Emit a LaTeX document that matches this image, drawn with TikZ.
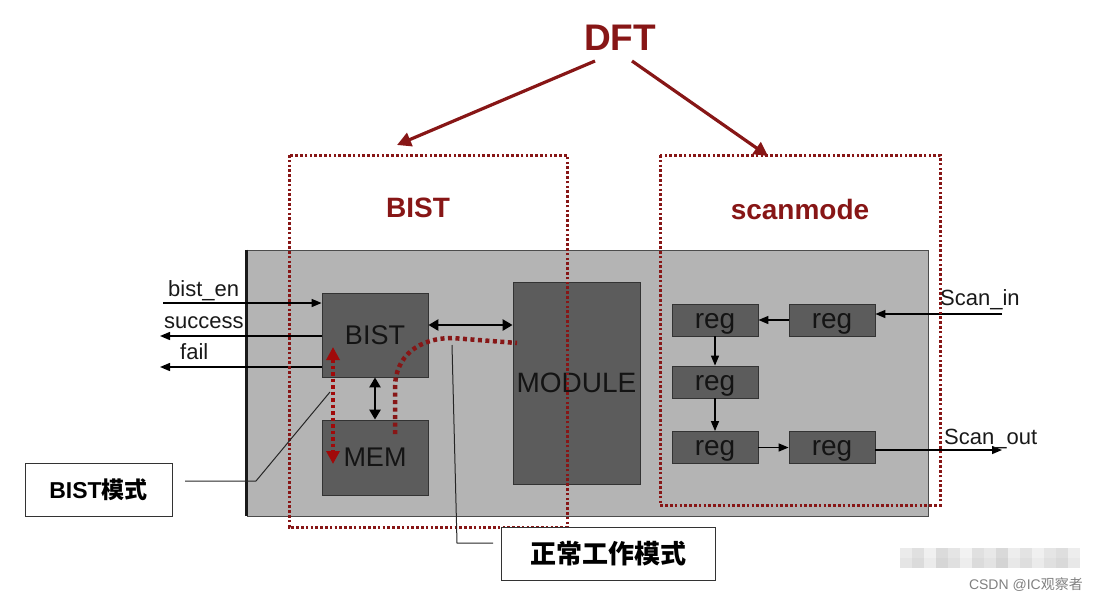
\documentclass[tikz,border=0pt]{standalone}
\usepackage{fontspec}
\setmainfont{Liberation Sans}
\newfontfamily\cjk{Noto Sans CJK SC}
\usetikzlibrary{arrows.meta}
\definecolor{dred}{RGB}{135,22,22}
\definecolor{mred}{RGB}{160,10,10}
\definecolor{chipgray}{RGB}{180,180,180}
\definecolor{blkgray}{RGB}{92,92,92}
\tikzset{
  blk/.style={draw=black!80, line width=0.8pt, fill=blkgray, inner sep=0pt, text=black!92},
  regbox/.style={blk, minimum width=86pt, minimum height=32pt, text height=17pt, text depth=1pt, font=\fontsize{28}{30}\selectfont},
  dotbox/.style={draw=dred, line width=3pt, dash pattern=on 2.6pt off 2.2pt},
  arr/.style={line width=1.4pt, -{Triangle[length=10pt,width=8pt]}},
  dbl/.style={line width=2.6pt, {Triangle[length=10pt,width=11pt]}-{Triangle[length=10pt,width=11pt]}},
  sig/.style={font=\fontsize{22}{24}\selectfont, inner sep=0pt, text=black!90},
  redlbl/.style={text=dred, font=\bfseries\fontsize{28}{30}\selectfont, inner sep=0pt},
  callout/.style={draw=black!80, line width=1pt, fill=white, inner sep=0pt, font=\cjk\bfseries\fontsize{26}{28}\selectfont},
  cline/.style={draw=black!85, line width=1pt},
  dftarr/.style={draw=dred, line width=3.2pt, -{Triangle[length=14pt,width=14pt]}},
}
\begin{document}
\begin{tikzpicture}[x=1pt,y=-1pt]
\useasboundingbox (0,0) rectangle (1098,603);
% chip
\node[draw=black!70, line width=0.8pt, fill=chipgray, minimum width=681pt, minimum height=266pt, inner sep=0pt] (chip) at (587.5,383) {};
\draw[line width=2.6pt, black!90] (chip.north west) -- (chip.south west);
% blocks
\node[blk, minimum width=106pt, minimum height=84pt, font=\fontsize{27}{30}\selectfont] (bist) at (375,335) {BIST};
\node[blk, minimum width=106pt, minimum height=75pt, font=\fontsize{27}{30}\selectfont] (mem) at (375,457.5) {MEM};
\node[blk, minimum width=127pt, minimum height=202pt, font=\fontsize{28}{30}\selectfont] (module) at (576.5,383) {MODULE};
\node[regbox] (r1) at (715,320) {reg};
\node[regbox] (r2) at (832,320) {reg};
\node[regbox] (r3) at (715,382) {reg};
\node[regbox] (r4) at (715,447.5) {reg};
\node[regbox] (r5) at (832,447.5) {reg};
% reg chain
\draw[arr] (r2) -- (r1);
\draw[arr] (r1) -- (r3);
\draw[arr] (r3) -- (r4);
\draw[arr] (r4) -- (r5);
\coordinate (sin) at (1002,314);
\coordinate (sout) at (1002,450);
\draw[arr] (sin) -- (sin -| r2.east);
\draw[arr] (r5.east |- sout) -- (sout);
\node[sig, anchor=base west] (sinl) at (940,305) {Scan\_in};
\node[sig, anchor=base west] (soutl) at (944,444) {Scan\_out};
% bist signals
\coordinate (en) at (163,303);
\coordinate (succ) at (160,336);
\coordinate (fl) at (160,367);
\draw[arr] (en) -- (en -| bist.west);
\draw[arr] (succ -| bist.west) -- (succ);
\draw[arr] (fl -| bist.west) -- (fl);
\node[sig, anchor=base west] (enl) at (168,296) {bist\_en};
\node[sig, anchor=base west] (succl) at (164,328) {success};
\node[sig, anchor=base west] (fll) at (180,359) {fail};
% bist <-> module, bist <-> mem
\draw[dbl] ([yshift=10pt]bist.east) -- ([yshift=10pt]bist.east -| module.west);
\draw[dbl] (bist.south) -- (mem.north);
% dotted boxes
\coordinate (bbtl) at (289,155);
\coordinate (bbbr) at (567,527);
\coordinate (sbtl) at (660,155);
\coordinate (sbbr) at (940,505);
\draw[dotbox] (bbtl) rectangle (bbbr);
\draw[dotbox] (sbtl) rectangle (sbbr);
\node[redlbl] (bistl) at (418,208) {BIST};
\node[redlbl] (scanl) at (800,209) {scanmode};
% DFT
\node[text=dred, font=\bfseries\fontsize{37}{40}\selectfont, inner sep=0pt] (dft) at (620,38) {DFT};
\coordinate (t1) at (397,145);
\coordinate (t2) at (768,156);
\draw[dftarr] (595,61) -- (t1);
\draw[dftarr] (632,61) -- (t2);
% red mode paths
\coordinate (ra) at (333,347);
\coordinate (rb) at (333,464);
\draw[draw=mred, line width=4pt, dash pattern=on 3.5pt off 3pt, {Triangle[length=13pt,width=13pt,fill=mred]}-{Triangle[length=13pt,width=13pt,fill=mred]}] (ra) -- (rb);
\coordinate (ca) at (395,434);
\coordinate (cb) at (517,343);
\draw[draw=dred, line width=4.5pt, dash pattern=on 4pt off 3.5pt] (ca) -- (395,388) .. controls (395,355) and (420,338) .. (452,338) -- (cb);
% callouts
\node[callout, minimum width=147pt, minimum height=53pt] (cb1) at (98.5,489.5) {\fontspec{Liberation Sans}\bfseries\fontsize{23}{26}\selectfont BIST\cjk 模式};
\node[callout, minimum width=214pt, minimum height=53pt] (cb2) at (608,553.5) {正常工作模式};
\coordinate (k1) at (185,481);
\coordinate (k2) at (256,481);
\coordinate (k3) at (330,392);
\draw[cline] (k1) -- (k2) -- (k3);
\coordinate (m1) at (493,543);
\coordinate (m2) at (457,543);
\coordinate (m3) at (452,345);
\draw[cline] (m1) -- (m2) -- (m3);
% watermark
\foreach \i/\c in {0/92,1/88,2/94,3/86,4/90,5/95,6/88,7/91,8/85,9/93,10/89,11/94,12/90,13/87,14/93}{
  \fill[black!\the\numexpr100-\c\relax] (900+\i*12,548) rectangle +(12,10);
  \fill[black!\the\numexpr100-\c+2\relax] (900+\i*12,558) rectangle +(12,10);
}
\node[text=black!50, font=\fontsize{14}{16}\selectfont, inner sep=0pt, anchor=east] (wm) at (1083,585) {CSDN @IC\cjk 观察者};
\end{tikzpicture}
\end{document}
